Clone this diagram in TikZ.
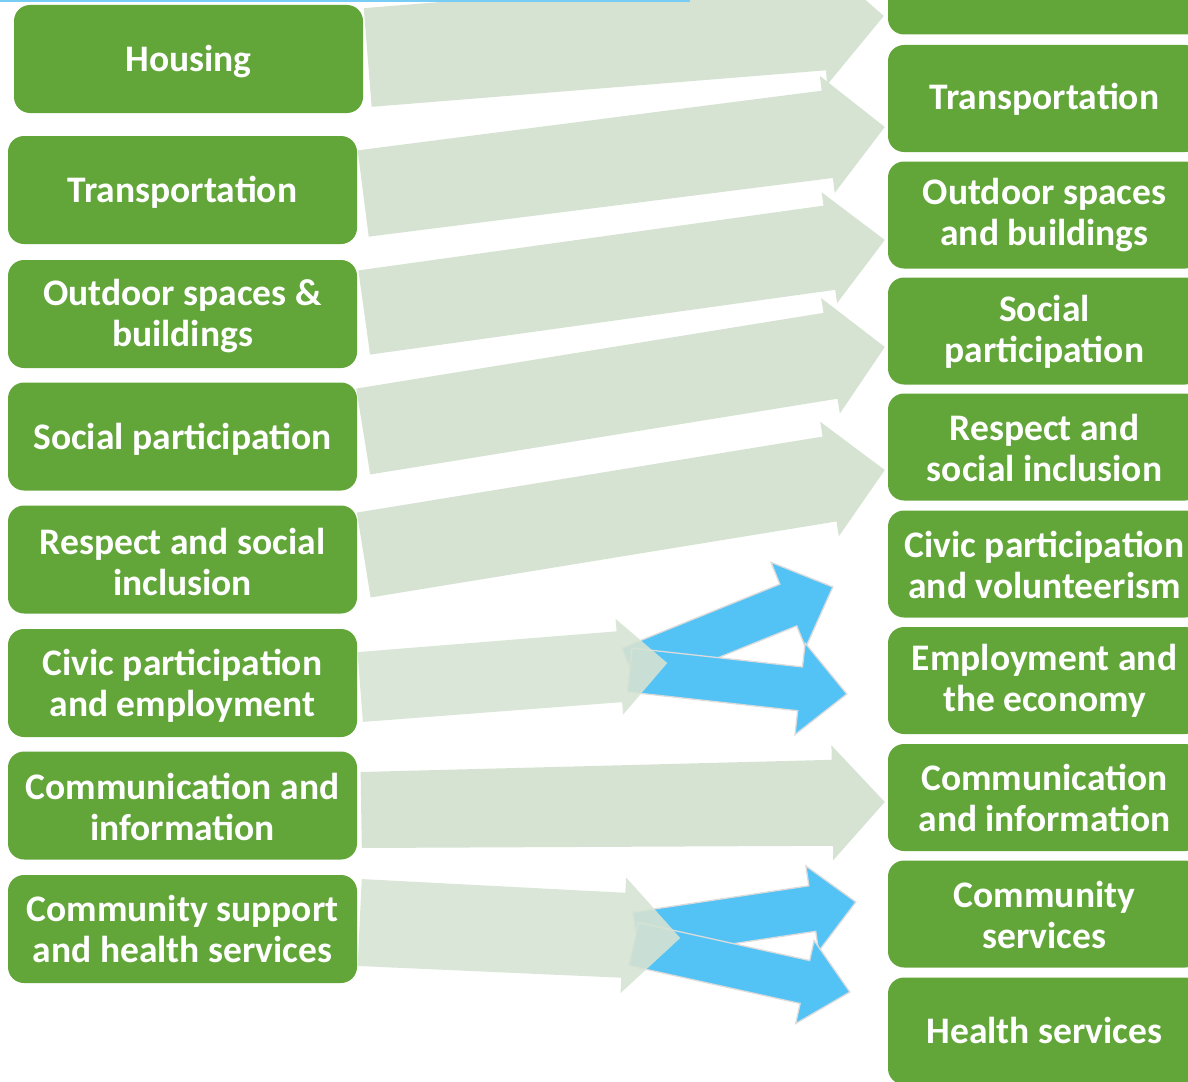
\documentclass[tikz,border=0pt]{standalone}
\usepackage{fontspec}
\setmainfont{Carlito}
\usetikzlibrary{calc}
\definecolor{boxgreen}{RGB}{98,166,57}
\definecolor{arrowgreen}{RGB}{214,227,211}
\definecolor{arrowblue}{RGB}{83,195,246}
\definecolor{topline}{RGB}{120,205,245}
\pgfdeclarelayer{bg}
\pgfsetlayers{bg,main}
% #1 style, #2 tail centre, #3 tip, #4 tail half-width, #5 half-width at head, #6 head half-width, #7 head length
\newcommand{\blockarrow}[7]{%
  \coordinate (baC) at #2;
  \coordinate (baP) at #3;
  \coordinate (baB) at ($(baP)!#7pt!(baC)$);
  \path[#1] ($(baC)!#4pt!90:(baP)$) -- ($(baB)!#5pt!90:(baP)$) -- ($(baB)!#6pt!90:(baP)$) -- (baP)
    -- ($(baB)!#6pt!-90:(baP)$) -- ($(baB)!#5pt!-90:(baP)$) -- ($(baC)!#4pt!-90:(baP)$) -- cycle;
}
\tikzset{
  boxtext/.style={text=white, align=center, inner sep=0pt, yshift=-2.5pt,
    font=\bfseries\fontsize{37.5}{41}\selectfont},
  rtext/.style={boxtext, yshift=2pt},
  leftbox/.style={fill=boxgreen, rounded corners=16pt, minimum width=349pt, minimum height=108pt,
    inner sep=0pt},
  rightbox/.style={leftbox, minimum width=313pt, minimum height=107pt},
  lightarrow/.style={fill=arrowgreen},
  lightarrowtop/.style={fill=arrowgreen, fill opacity=0.9},
  bluearrow/.style={fill=arrowblue, draw=black!14, line width=1.3pt, line join=miter},
}
\begin{document}
\begin{tikzpicture}[x=1pt,y=-1pt]
\useasboundingbox (0,0) rectangle (1188,1081);
\clip (0,0) rectangle (1188,1081);
% left column
\node[leftbox, label={[boxtext]center:Housing}] (L1) at (188.5,59) {};
\node[leftbox, label={[boxtext]center:Transportation}] (L2) at (182.5,190) {};
\node[leftbox, label={[boxtext]center:Outdoor spaces \&\\buildings}] (L3) at (182.5,314) {};
\node[leftbox, label={[boxtext]center:Social participation}] (L4) at (182.5,436.5) {};
\node[leftbox, label={[boxtext]center:Respect and social\\inclusion}] (L5) at (182.5,559.5) {};
\node[leftbox, label={[boxtext]center:Civic participation\\and employment}] (L6) at (182.5,683) {};
\node[leftbox, label={[boxtext, yshift=1.5pt]center:Communication and\\information}] (L7) at (182.5,805.5) {};
\node[leftbox, label={[boxtext, yshift=2.5pt]center:Community support\\and health services}] (L8) at (182.5,929) {};
% right column
\node[rightbox] (R0) at (1044.5,-19) {};
\node[rightbox, label={[rtext]center:Transportation}] (R1) at (1044.5,98.5) {};
\node[rightbox, label={[rtext]center:Outdoor spaces\\and buildings}] (R2) at (1044.5,215) {};
\node[rightbox, label={[rtext]center:Social\\participation}] (R3) at (1044.5,331) {};
\node[rightbox, label={[rtext]center:Respect and\\social inclusion}] (R4) at (1044.5,447) {};
\node[rightbox, label={[rtext]center:Civic participation\\and volunteerism}] (R5) at (1044.5,564) {};
\node[rightbox, label={[rtext]center:Employment and\\the economy}] (R6) at (1044.5,680.5) {};
\node[rightbox, label={[rtext]center:Communication\\and information}] (R7) at (1044.5,797.5) {};
\node[rightbox, label={[rtext]center:Community\\services}] (R8) at (1044.5,914) {};
\node[rightbox, label={[rtext, yshift=1.5pt]center:Health services}] (R9) at (1044.5,1031) {};
\begin{pgfonlayer}{bg}
\blockarrow{lightarrow}{($(L1.east)+(4.5,-1.5)$)}{($(R0.west)+(-4,35)$)}{49.5}{49.5}{64}{62}
\blockarrow{lightarrow}{($(L2.east)+(6,3.5)$)}{($(R1.west)+(-3,28.5)$)}{43.5}{44}{59}{58}
\blockarrow{lightarrow}{($(L3.east)+(7,-1.5)$)}{($(R2.west)+(-3,25)$)}{42.5}{42.5}{56}{56}
\blockarrow{lightarrow}{($(L4.east)+(6,-5)$)}{($(R3.west)+(-3,16)$)}{43.5}{43.5}{58.5}{55}
\blockarrow{lightarrow}{($(L5.east)+(6.5,-4.5)$)}{($(R4.west)+(-3,23)$)}{43}{43}{58}{56}
\blockarrow{lightarrow}{($(L7.east)+(4,4.5)$)}{($(R7.west)+(-3,4.5)$)}{38}{43}{57.5}{52.5}
% blue arrows
\blockarrow{bluearrow}{($(L6.east)+(273,-14)$)}{($(R5.west)+(-55,23)$)}{22.5}{22.5}{46}{48}
\blockarrow{bluearrow}{($(L6.east)+(272.5,-13)$)}{($(R6.west)+(-41,13.5)$)}{22}{22}{46}{47}
\blockarrow{bluearrow}{($(L8.east)+(279,6)$)}{($(R8.west)+(-32,-12)$)}{23}{23}{43}{44}
\blockarrow{bluearrow}{($(L8.east)+(276.5,15)$)}{($(R9.west)+(-38,-39)$)}{22}{22}{42.5}{46}
% green arrows over the blue tails
\coordinate (civictip) at ($(L6.east)+(310,-20)$);
\coordinate (commtip) at ($(L8.east)+(323,9)$);
\blockarrow{lightarrowtop}{($(L6.east)+(3,4)$)}{(civictip)}{35}{35.5}{48}{48}
\blockarrow{lightarrowtop}{($(L8.east)+(2.5,-6.5)$)}{(commtip)}{43.5}{42.5}{58}{57}
\end{pgfonlayer}
% thin line at the top edge
\coordinate (lineA) at (0,1);
\coordinate (lineB) at (690,1);
\draw[topline, line width=2.5pt] (lineA) -- (lineB);
\end{tikzpicture}
\end{document}
